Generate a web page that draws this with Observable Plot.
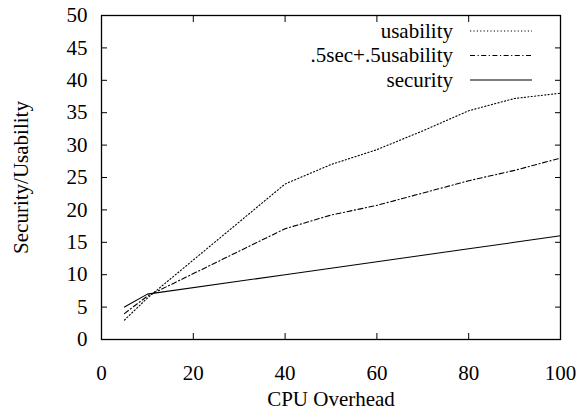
<!DOCTYPE html>
<html>
<head>
<meta charset="utf-8">
<script src="https://cdn.jsdelivr.net/npm/d3@7"></script>
<script src="https://cdn.jsdelivr.net/npm/@observablehq/plot@0.6"></script>
<style>
  html, body { margin: 0; padding: 0; background: #fff; }
  #chart { width: 582px; height: 411px; }
  svg, svg text { font-family: "Liberation Serif", "Times New Roman", serif !important; }
</style>
</head>
<body>
<div id="chart"></div>
<script>
const overhead = [5, 10, 40, 50, 60, 70, 80, 90, 100];
const usability = [3, 6.4, 24, 27, 29.3, 32.2, 35.3, 37.2, 38];
const combined = [4, 6.7, 17.1, 19.2, 20.7, 22.6, 24.5, 26.1, 28];
const security = [5, 7, 10, 11, 12, 13, 14, 15, 16];
const seriesNames = ["usability", ".5sec+.5usability", "security"];
const seriesDash = ["1.2,2.2", "5,2.5,1.2,2.5", null];
const xTicks = [0, 20, 40, 60, 80, 100];
const yTicks = [0, 5, 10, 15, 20, 25, 30, 35, 40, 45, 50];

const seriesValues = [usability, combined, security];
const data = [];
seriesNames.forEach((name, i) => {
  overhead.forEach((x, j) => data.push({series: name, x, y: seriesValues[i][j]}));
});

const W = 582, H = 411;
const mL = 101, mR = 22, mT = 15, mB = 72;
const fs = 21;

const innerTicksX = xTicks.slice(1, -1);
const innerTicksY = yTicks.slice(1, -1);

const plot = Plot.plot({
  width: W,
  height: H,
  marginLeft: mL,
  marginRight: mR,
  marginTop: mT,
  marginBottom: mB,
  style: {fontFamily: '"Liberation Serif", "Times New Roman", serif', fontSize: fs + "px", background: "#fff", color: "#000"},
  x: {domain: [0, 100]},
  y: {domain: [0, 50]},
  marks: [
    Plot.axisX(innerTicksX, {anchor: "bottom", tickSize: -6, text: null, label: null, strokeWidth: 1}),
    Plot.axisX(innerTicksX, {anchor: "top", tickSize: -6, text: null, label: null, strokeWidth: 1}),
    Plot.axisY(innerTicksY, {anchor: "left", tickSize: -6, text: null, label: null, strokeWidth: 1}),
    Plot.axisY(innerTicksY, {anchor: "right", tickSize: -6, text: null, label: null, strokeWidth: 1}),
    Plot.axisX(xTicks, {anchor: "bottom", tickSize: 0, tickPadding: 26, fontSize: fs, label: "CPU Overhead", labelAnchor: "center", labelOffset: 66, labelArrow: "none"}),
    Plot.axisY(yTicks, {anchor: "left", tickSize: 0, tickPadding: 14, fontSize: fs, label: "Security/Usability", labelAnchor: "center", labelOffset: 88, labelArrow: "none"}),
    ...seriesNames.map((name, i) =>
      Plot.line(data.filter(d => d.series === name), {
        x: "x", y: "y", stroke: "#000", strokeWidth: 1.1,
        strokeDasharray: seriesDash[i] || undefined
      })
    ),
    Plot.frame({stroke: "#000", strokeWidth: 1.3})
  ]
});

const svg = d3.select(plot);
const legendTop = 31, legendStep = 24.5;
const textRight = 453, lineX1 = 470, lineX2 = 532;
seriesNames.forEach((name, i) => {
  const y = legendTop + i * legendStep;
  svg.append("text")
    .attr("x", textRight).attr("y", y)
    .attr("text-anchor", "end").attr("dy", "0.32em")
    .attr("font-size", fs)
    .attr("fill", "#000")
    .text(name);
  svg.append("line")
    .attr("x1", lineX1).attr("x2", lineX2)
    .attr("y1", y).attr("y2", y)
    .attr("stroke", "#000").attr("stroke-width", 1.1)
    .attr("stroke-dasharray", seriesDash[i] || null);
});

document.getElementById("chart").appendChild(plot);
</script>
</body>
</html>
